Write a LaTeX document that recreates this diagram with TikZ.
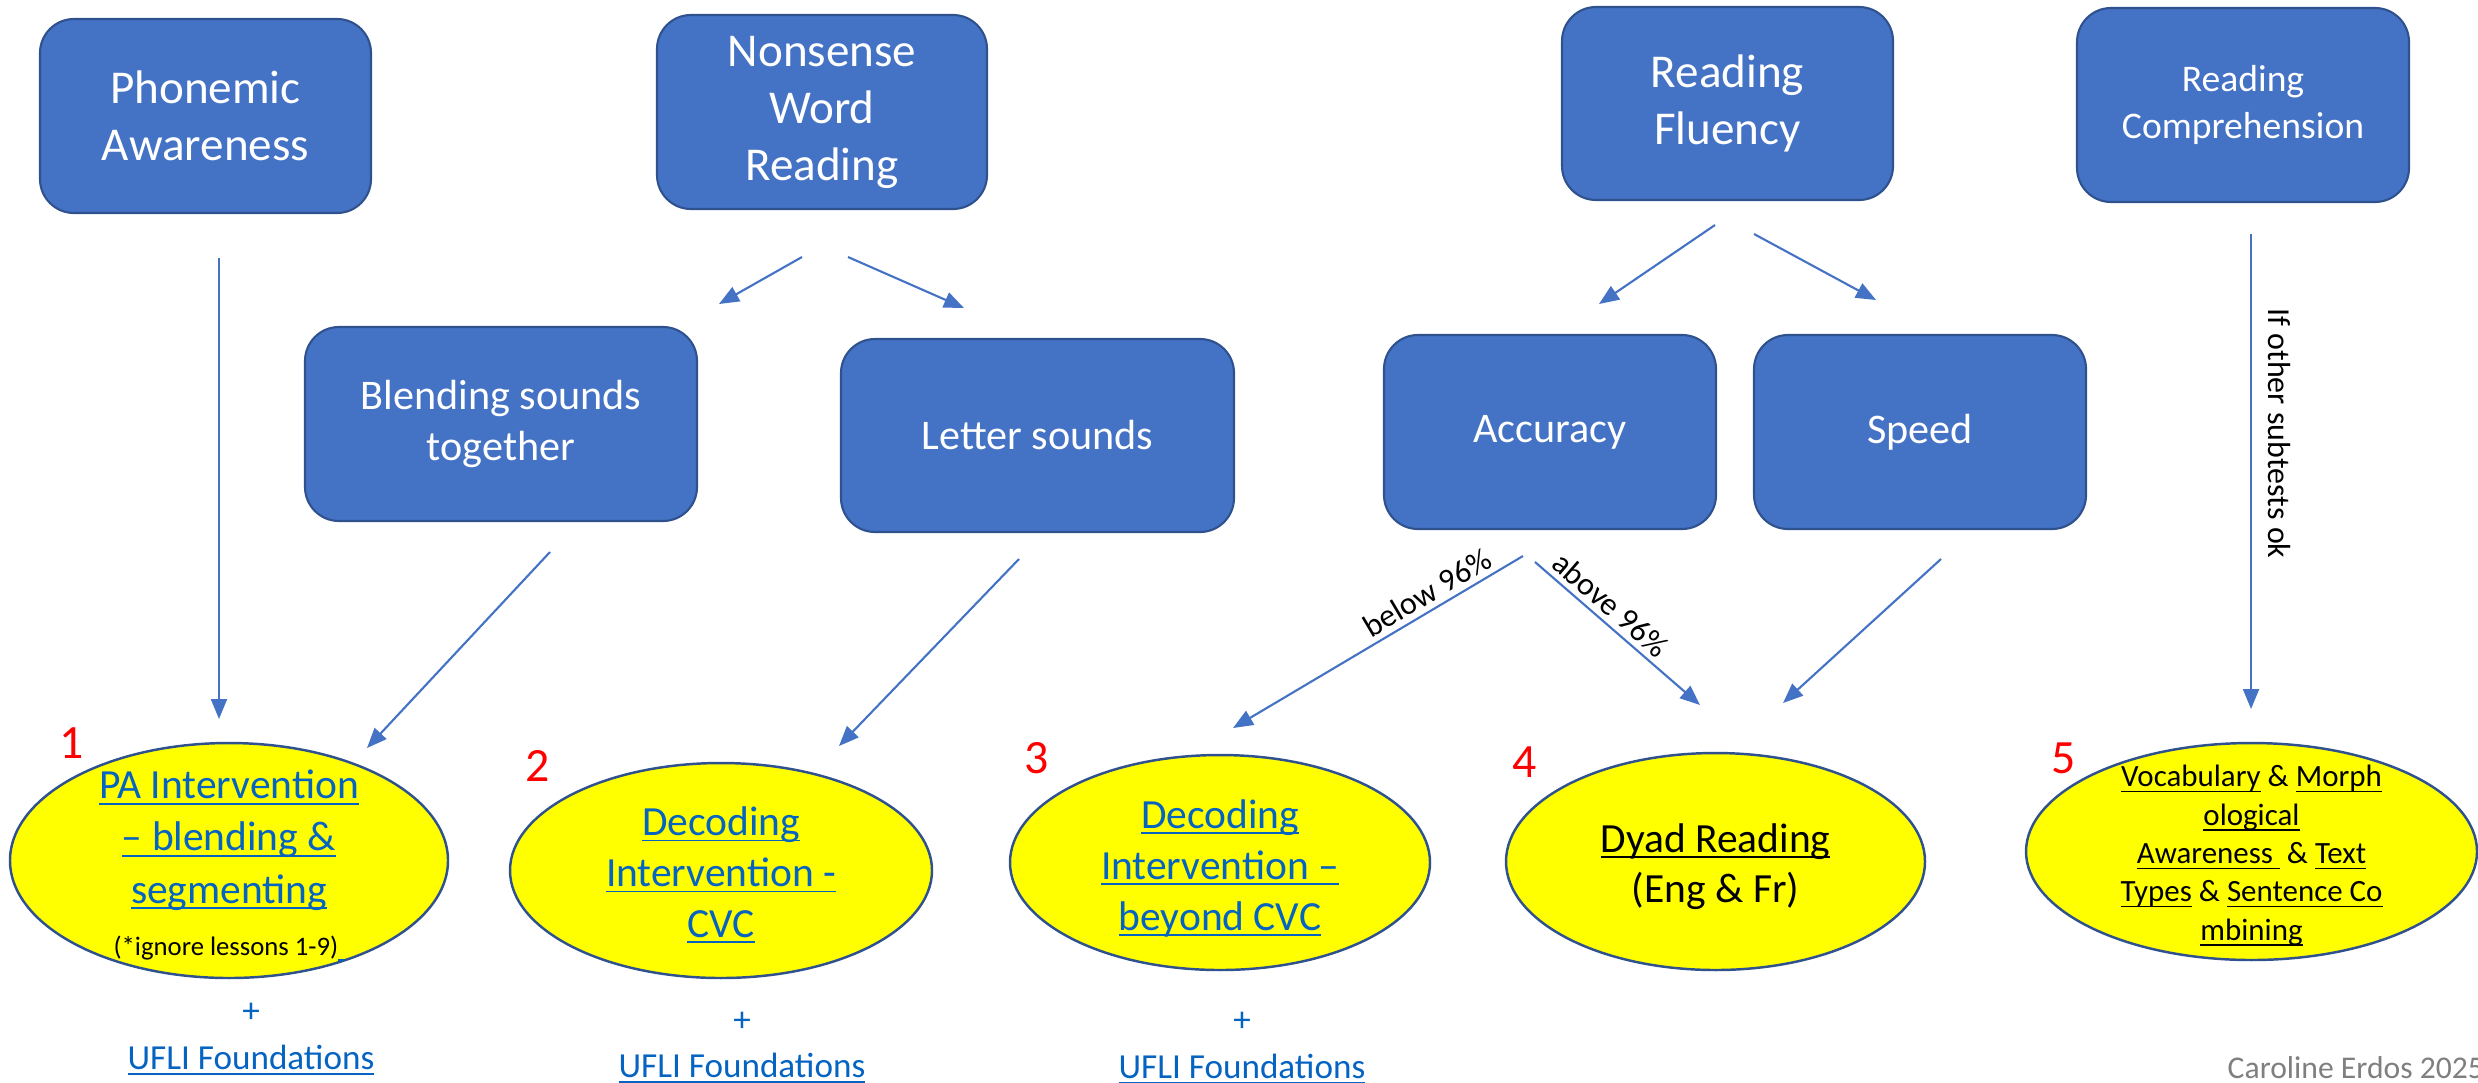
\documentclass[tikz,border=0pt]{standalone}
\usepackage{fontspec}
\setmainfont{Carlito}
\usetikzlibrary{shapes.geometric, arrows.meta}

\definecolor{skillblue}{HTML}{4472C4}
\definecolor{skilledge}{HTML}{2F528F}
\definecolor{linkblue}{HTML}{0563C1}
\definecolor{planyellow}{HTML}{FFFF00}
\definecolor{signgray}{HTML}{7F7F7F}

% underline that runs through the descenders
\newcommand{\undr}[1]{\underline{\smash{#1}}}

\begin{document}
\begin{tikzpicture}[
    skill/.style={rectangle, rounded corners=0.34cm, draw=skilledge, line width=0.6pt,
      fill=skillblue, text=white, align=center, inner sep=0pt, minimum height=1.94cm},
    plan/.style={ellipse, draw=skilledge, line width=0.7pt, fill=planyellow, inner sep=0pt},
    plantext/.style={align=center, anchor=base, inner sep=0pt},
    rank/.style={text=red, inner sep=0pt, font=\fontsize{13.6}{16}\selectfont},
    arr/.style={draw=skillblue, line width=0.6pt, -{Triangle[length=0.2cm, width=0.16cm]}},
    note/.style={font=\fontsize{9.1}{11}\selectfont}
  ]
    \useasboundingbox (0,0) rectangle (24.78,-10.82);

    % Draw the subtests along the top
    \node[skill, minimum width=3.31cm, font=\fontsize{13.4}{16.2}\selectfont] (pa) at (2.055,-1.16) {Phonemic\\Awareness};
    \node[skill, minimum width=3.30cm, font=\fontsize{13.4}{16.2}\selectfont] (nwr) at (8.22,-1.12) {Nonsense\\Word\\Reading};
    \node[skill, minimum width=3.31cm, minimum height=1.93cm, font=\fontsize{13.4}{16.2}\selectfont] (rf) at (17.275,-1.035) {Reading\\Fluency};
    \node[skill, minimum width=3.32cm, font=\fontsize{10.7}{13.4}\selectfont] (rc) at (22.43,-1.05) {Reading\\Comprehension};

    % Draw the skills under them
    \node[skill, minimum width=3.92cm, font=\fontsize{12}{14.5}\selectfont] (blend) at (5.01,-4.24) {Blending sounds\\together};
    \node[skill, minimum width=3.93cm, minimum height=1.93cm, font=\fontsize{12}{14.5}\selectfont] (letters) at (10.375,-4.355) {Letter sounds};
    \node[skill, minimum width=3.32cm, font=\fontsize{12}{14.5}\selectfont] (acc) at (15.50,-4.32) {Accuracy};
    \node[skill, minimum width=3.32cm, font=\fontsize{12}{14.5}\selectfont] (speed) at (19.20,-4.32) {Speed};

    % Draw the interventions (the ovals)
    \node[plan, minimum width=4.38cm, minimum height=2.35cm] (e1) at (2.29,-8.605) {};
    \node[plan, minimum width=4.22cm, minimum height=2.15cm] (e2) at (7.21,-8.705) {};
    \node[plan, minimum width=4.20cm, minimum height=2.15cm] (e3) at (12.20,-8.625) {};
    \node[plan, minimum width=4.19cm, minimum height=2.17cm] (e4) at (17.155,-8.615) {};
    \node[plan, minimum width=4.51cm, minimum height=2.17cm] (e5) at (22.515,-8.515) {};

    % Texts of the ovals (placed at their last baseline)
    \node[plantext, text=linkblue, font=\fontsize{11.8}{14.8}\selectfont] (t1) at (2.29,-9.55)
      {\undr{PA Intervention}\\\undr{– blending \&}\\\undr{segmenting}\\{\fontsize{7.6}{9}\selectfont\textcolor{black}{(*ignore lessons 1-9)}\undr{\ }}};
    \node[plantext, text=linkblue, font=\fontsize{11.8}{14.4}\selectfont] (t2) at (7.21,-9.37)
      {\undr{Decoding}\\\undr{Intervention -}\\\undr{CVC}};
    \node[plantext, text=linkblue, font=\fontsize{11.8}{14.5}\selectfont] (t3) at (12.20,-9.30)
      {\undr{Decoding}\\\undr{Intervention –}\\\undr{beyond CVC}};
    \node[plantext, font=\fontsize{11.8}{14.2}\selectfont] (t4) at (17.155,-9.02)
      {\undr{Dyad Reading}\\(Eng \& Fr)};
    \node[plantext, font=\fontsize{8.8}{10.9}\selectfont] (t5) at (22.515,-9.40)
      {\undr{Vocabulary} \& \undr{Morph}\\\undr{ological}\\\undr{Awareness\ } \& \undr{Text}\\\undr{Types} \& \undr{Sentence Co}\\\undr{mbining}};

    % Red numbers
    \node[rank] (n1) at (0.72,-7.43) {1};
    \node[rank] (n2) at (5.38,-7.66) {2};
    \node[rank] (n3) at (10.37,-7.58) {3};
    \node[rank] (n4) at (15.25,-7.62) {4};
    \node[rank] (n5) at (20.64,-7.58) {5};

    % Extra programme under the first three
    \node[text=linkblue, font=\fontsize{10}{12}\selectfont] (plus1) at (2.51,-10.13) {+};
    \node[anchor=base, text=linkblue, font=\fontsize{10}{12}\selectfont] (ufli1) at (2.51,-10.69) {\undr{UFLI Foundations}};
    \node[text=linkblue, font=\fontsize{10}{12}\selectfont] (plus2) at (7.42,-10.22) {+};
    \node[anchor=base, text=linkblue, font=\fontsize{10}{12}\selectfont] (ufli2) at (7.42,-10.77) {\undr{UFLI Foundations}};
    \node[text=linkblue, font=\fontsize{10}{12}\selectfont] (plus3) at (12.42,-10.22) {+};
    \node[anchor=base, text=linkblue, font=\fontsize{10}{12}\selectfont] (ufli3) at (12.42,-10.78) {\undr{UFLI Foundations}};

    % Signature, cut by the right edge
    \node[anchor=base west, inner sep=0pt, text=signgray, font=\fontsize{9}{11}\selectfont] (sign) at (22.27,-10.78) {Caroline Erdos 2025};

    % End points of the arrows
    \coordinate (pa-out) at (2.19,-2.58);
    \coordinate (e1-top) at (2.19,-7.19);
    \coordinate (blend-out) at (5.50,-5.52);
    \coordinate (e1-side) at (3.67,-7.48);
    \coordinate (nwr-left) at (8.02,-2.57);
    \coordinate (blend-in) at (7.19,-3.04);
    \coordinate (nwr-right) at (8.48,-2.57);
    \coordinate (letters-in) at (9.64,-3.08);
    \coordinate (letters-out) at (10.19,-5.59);
    \coordinate (e2-side) at (8.39,-7.46);
    \coordinate (rf-left) at (17.15,-2.25);
    \coordinate (acc-in) at (15.99,-3.04);
    \coordinate (rf-right) at (17.54,-2.34);
    \coordinate (speed-in) at (18.76,-3.00);
    \coordinate (acc-left) at (15.23,-5.56);
    \coordinate (e3-top) at (12.33,-7.28);
    \coordinate (acc-right) at (15.35,-5.62);
    \coordinate (e4-left) at (17.00,-7.05);
    \coordinate (speed-out) at (19.41,-5.59);
    \coordinate (e4-right) at (17.83,-7.03);
    \coordinate (rc-out) at (22.51,-2.34);
    \coordinate (e5-top) at (22.51,-7.09);

    % Draw the arrows
    \draw[arr] (pa-out) -- (e1-top);
    \draw[arr] (blend-out) -- (e1-side);
    \draw[arr] (nwr-left) -- (blend-in);
    \draw[arr] (nwr-right) -- (letters-in);
    \draw[arr] (letters-out) -- (e2-side);
    \draw[arr] (rf-left) -- (acc-in);
    \draw[arr] (rf-right) -- (speed-in);
    \draw[arr] (acc-left) -- node[note, pos=0.3, sloped, above, inner sep=1.5pt] {below 96\%} (e3-top);
    \draw[arr] (acc-right) -- node[note, pos=0.39, sloped, above, inner sep=1.5pt] {above 96\%} (e4-left);
    \draw[arr] (speed-out) -- (e4-right);
    \draw[arr] (rc-out) -- node[note, pos=0.42, rotate=-90, anchor=south, inner sep=4.5pt] {If other subtests ok} (e5-top);
\end{tikzpicture}
\end{document}
